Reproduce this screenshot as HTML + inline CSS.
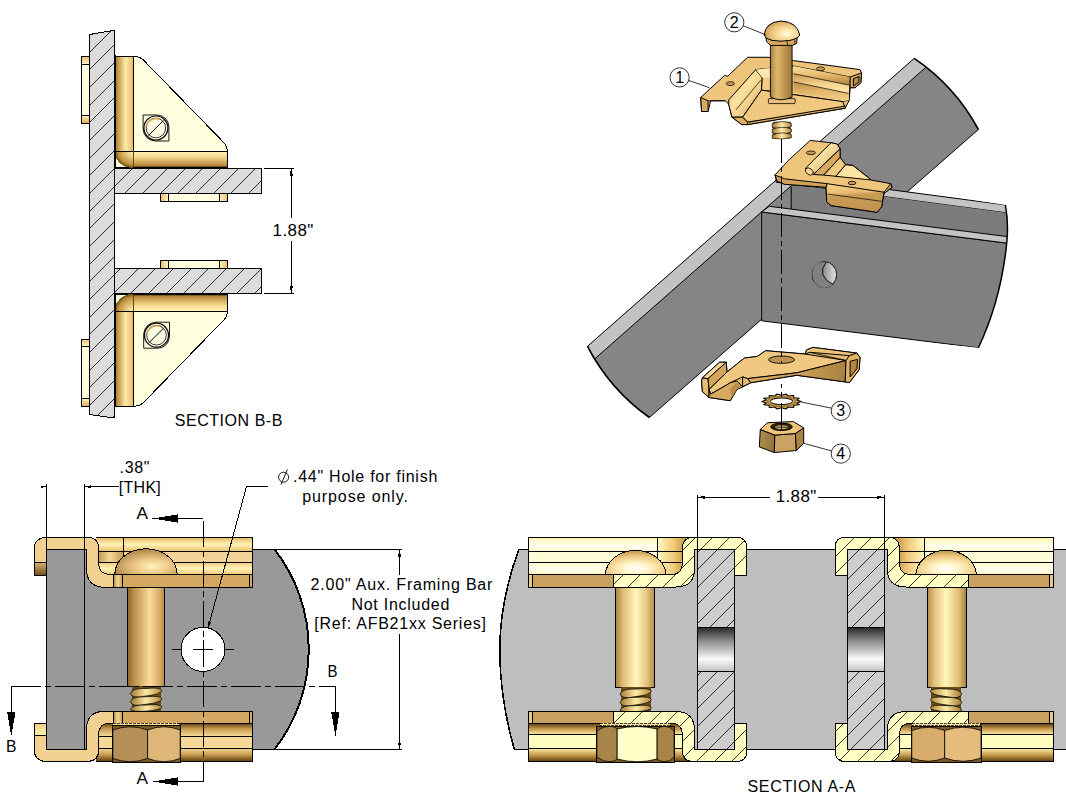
<!DOCTYPE html>
<html><head><meta charset="utf-8"><title>Drawing</title>
<style>
html,body{margin:0;padding:0;background:#fff;}
svg{display:block;}
text{font-family:"Liberation Sans",sans-serif;font-size:16px;fill:#000;}
.ln{stroke:#000;stroke-width:1;fill:none;}
.k{stroke:#000;stroke-width:1;}
</style></head><body>
<svg width="1066" height="800" viewBox="0 0 1066 800" shape-rendering="crispEdges">
<defs>
<pattern id="hatW" patternUnits="userSpaceOnUse" width="17.8" height="17.8" patternTransform="translate(-0.5 0)">
<path d="M-1 18.8L18.8 -1M-1 1L1 -1M16.8 18.8L18.8 16.8" stroke="#000" stroke-width="1" fill="none"/></pattern>
<pattern id="hatP1" patternUnits="userSpaceOnUse" width="17.8" height="17.8" patternTransform="translate(12.4 0)">
<path d="M-1 18.8L18.8 -1M-1 1L1 -1M16.8 18.8L18.8 16.8" stroke="#000" stroke-width="1" fill="none"/></pattern>
<pattern id="hatP2" patternUnits="userSpaceOnUse" width="17.8" height="17.8" patternTransform="translate(15.3 0)">
<path d="M-1 18.8L18.8 -1M-1 1L1 -1M16.8 18.8L18.8 16.8" stroke="#000" stroke-width="1" fill="none"/></pattern>
<linearGradient id="gVbar" x1="0" x2="1" y1="0" y2="0">
<stop offset="0" stop-color="#5a3c08"/><stop offset="0.12" stop-color="#b88a3c"/><stop offset="0.6" stop-color="#ffeaa8"/><stop offset="1" stop-color="#e6bd6c"/></linearGradient>
<linearGradient id="gHbarD" x1="0" x2="0" y1="0" y2="1">
<stop offset="0" stop-color="#fff3b8"/><stop offset="0.35" stop-color="#f6d88c"/><stop offset="0.85" stop-color="#b88a3c"/><stop offset="1" stop-color="#3a2604"/></linearGradient>
<linearGradient id="gHbarU" x1="0" x2="0" y1="1" y2="0">
<stop offset="0" stop-color="#fff3b8"/><stop offset="0.35" stop-color="#f6d88c"/><stop offset="0.85" stop-color="#b88a3c"/><stop offset="1" stop-color="#3a2604"/></linearGradient>
<linearGradient id="gTabT" x1="0" x2="0" y1="0" y2="1"><stop offset="0" stop-color="#e8c070"/><stop offset="1" stop-color="#fff4c0"/></linearGradient>
<linearGradient id="gTabB" x1="0" x2="0" y1="0" y2="1"><stop offset="0" stop-color="#fff4c0"/><stop offset="1" stop-color="#d8a850"/></linearGradient>
<linearGradient id="gTabL" x1="0" x2="1" y1="0" y2="0"><stop offset="0" stop-color="#e8c070"/><stop offset="1" stop-color="#fff4c0"/></linearGradient>
<linearGradient id="gTabR" x1="0" x2="1" y1="0" y2="0"><stop offset="0" stop-color="#fff4c0"/><stop offset="1" stop-color="#e8c070"/></linearGradient>
<radialGradient id="gCornA" cx="1" cy="0" r="1"><stop offset="0.1" stop-color="#ffe9a6"/><stop offset="0.8" stop-color="#c09040"/><stop offset="1" stop-color="#6a4a10"/></radialGradient>
<radialGradient id="gCornB" cx="1" cy="1" r="1"><stop offset="0.1" stop-color="#ffe9a6"/><stop offset="0.8" stop-color="#c09040"/><stop offset="1" stop-color="#6a4a10"/></radialGradient>
</defs>
<rect width="1066" height="800" fill="#fff"/>

<!-- ================= SECTION B-B (top-left) ================= -->
<g id="secBB">
<!-- wall -->
<path d="M89 34.6L114.5 30.3L114.5 418L89 414.4Z" fill="#dcdcdc"/>
<clipPath id="cpBB"><path d="M89 34.6L114.5 30.3L114.5 418L89 414.4Z"/><rect x="114.5" y="168.4" width="147" height="24.9"/><rect x="114.5" y="268.7" width="147" height="24.7"/></clipPath>
<path d="M89 34.6L114.5 30.3L114.5 418L89 414.4Z" fill="none" class="k"/>
<!-- left tabs -->
<rect x="81.3" y="56.6" width="7.7" height="66.6" fill="#ffffe0" class="k"/>
<rect x="81.3" y="56.6" width="7.7" height="7.6" fill="url(#gTabT)" class="k"/>
<rect x="81.3" y="115.7" width="7.7" height="7.5" fill="url(#gTabB)" class="k"/>
<rect x="81.3" y="339.2" width="7.7" height="67.5" fill="#ffffe0" class="k"/>
<rect x="81.3" y="339.2" width="7.7" height="7.7" fill="url(#gTabT)" class="k"/>
<rect x="81.3" y="398.6" width="7.7" height="8.1" fill="url(#gTabB)" class="k"/>
<!-- plates -->
<rect x="114.5" y="168.4" width="147" height="24.9" fill="#dcdcdc"/>
<rect x="114.5" y="268.7" width="147" height="24.7" fill="#dcdcdc"/>
<g clip-path="url(#cpBB)"><path d="M85.0 39.1L265.0 -140.9M85.0 56.7L265.0 -123.3M85.0 74.4L265.0 -105.6M85.0 92.1L265.0 -87.9M85.0 109.7L265.0 -70.3M85.0 127.4L265.0 -52.6M85.0 145.0L265.0 -35.0M85.0 162.7L265.0 -17.3M85.0 180.4L265.0 0.4M85.0 198.0L265.0 18.0M85.0 215.7L265.0 35.7M85.0 233.3L265.0 53.3M85.0 251.0L265.0 71.0M85.0 268.7L265.0 88.7M85.0 286.3L265.0 106.3M85.0 304.0L265.0 124.0M85.0 321.6L265.0 141.6M85.0 339.3L265.0 159.3M85.0 357.0L265.0 177.0M85.0 374.6L265.0 194.6M85.0 392.3L265.0 212.3M85.0 409.9L265.0 229.9M85.0 427.6L265.0 247.6M85.0 445.3L265.0 265.3M85.0 462.9L265.0 282.9M85.0 480.6L265.0 300.6M85.0 498.2L265.0 318.2M85.0 515.9L265.0 335.9M85.0 533.6L265.0 353.6M85.0 551.2L265.0 371.2M85.0 568.9L265.0 388.9M85.0 586.5L265.0 406.5" stroke="#000" stroke-width="0.8" fill="none"/></g>
<rect x="114.5" y="168.4" width="147" height="24.9" fill="none" class="k"/>
<rect x="114.5" y="268.7" width="147" height="24.7" fill="none" class="k"/>
<!-- small nuts -->
<rect x="160.6" y="193.3" width="67" height="7.9" fill="#ffffe0" class="k"/>
<rect x="160.6" y="193.3" width="7.6" height="7.9" fill="url(#gTabL)" class="k"/>
<rect x="219.4" y="193.3" width="8.2" height="7.9" fill="url(#gTabR)" class="k"/>
<rect x="160.6" y="260.6" width="67" height="8.1" fill="#ffffe0" class="k"/>
<rect x="160.6" y="260.6" width="7.6" height="8.1" fill="url(#gTabL)" class="k"/>
<rect x="219.4" y="260.6" width="8.2" height="8.1" fill="url(#gTabR)" class="k"/>
<!-- upper bracket -->
<path d="M114.5 56.6L136 56.6Q140 56.8 143 59.6L224.6 143.4Q227.4 146.6 227.4 151.3L227.4 167.8L114.5 167.8Z" fill="#ffffe0" class="k"/>
<rect x="114.5" y="56.6" width="18.5" height="94.7" fill="url(#gVbar)" class="k"/>
<rect x="133" y="151.3" width="94.4" height="16.5" fill="url(#gHbarD)" class="k"/>
<path d="M114.5 151.3L133 151.3L133 167.8Q116.5 166.5 114.5 151.3Z" fill="url(#gCornA)" stroke="#7a5a20" stroke-width="0.8"/>
<path d="M114.5 151.3L133 151.3" class="ln"/>
<path d="M114.5 55L114.5 168.4" stroke="#000" stroke-width="2"/>
<path d="M133 167.6L227.4 167.6" stroke="#000" stroke-width="2"/>
<!-- lower bracket -->
<path d="M114.5 406L136 406Q140 405.8 143 403L224.6 319.2Q227.4 316 227.4 311.3L227.4 294L114.5 294Z" fill="#ffffe0" class="k"/>
<rect x="114.5" y="311.3" width="18.5" height="94.7" fill="url(#gVbar)" class="k"/>
<rect x="133" y="294" width="94.4" height="17.3" fill="url(#gHbarU)" class="k"/>
<path d="M114.5 311.3L133 311.3L133 294Q116.5 295.3 114.5 311.3Z" fill="url(#gCornB)" stroke="#7a5a20" stroke-width="0.8"/>
<path d="M114.5 311.3L133 311.3" class="ln"/>
<path d="M114.5 293.4L114.5 407" stroke="#000" stroke-width="2"/>
<path d="M133 294.4L227.4 294.4" stroke="#000" stroke-width="2"/>
<!-- screws -->
<g shape-rendering="geometricPrecision">
<g transform="translate(155.9 128)">
<path d="M-12.8 -13L2 -13Q12.2 -11.6 13 -1L13 13L-1 13Q-11.8 11.6 -12.8 1Z" fill="#ffffe0" stroke="#000" stroke-width="0.9"/>
<circle r="12" fill="#ffffe8" stroke="#000" stroke-width="1.2"/>
<circle r="9.8" fill="none" stroke="#000" stroke-width="0.8"/>
<path d="M-9.6 -3A10 10 0 0 1 3 -9.6" stroke="#e0b050" stroke-width="1.4" fill="none" transform="translate(0.3 0.8)"/>
<path d="M-7.4 7.4L7.4 -7.4" stroke="#000" stroke-width="1"/>
</g>
<g transform="translate(156.5 335.2)">
<path d="M-12.8 13L2 13Q12.2 11.6 13 1L13 -13L-1 -13Q-11.8 -11.6 -12.8 -1Z" fill="#ffffe0" stroke="#000" stroke-width="0.9"/>
<circle r="12" fill="#ffffe8" stroke="#000" stroke-width="1.2"/>
<circle r="9.8" fill="none" stroke="#000" stroke-width="0.8"/>
<path d="M-9.6 -3A10 10 0 0 1 3 -9.6" stroke="#e0b050" stroke-width="1.4" fill="none" transform="translate(0.3 0.8)"/>
<path d="M-7.4 7.4L7.4 -7.4" stroke="#000" stroke-width="1"/>
</g></g>
<!-- dimension -->
<path d="M263.6 168.4L294 168.4M263.6 293.4L294 293.4M291.2 168.4L291.2 218M291.2 241L291.2 293.4" class="ln"/>
<path d="M291.2 168.4L289.6 175.5L292.8 175.5ZM291.2 293.4L289.6 286.3L292.8 286.3Z" fill="#000"/>
<text x="272.6" y="236" textLength="40.7" lengthAdjust="spacing" style="font-size:17px">1.88"</text>
<text x="174.8" y="425.9" textLength="107.6" lengthAdjust="spacing">SECTION B-B</text>
</g>

<!-- ================= PLAN VIEW (bottom-left) ================= -->
<defs>
<linearGradient id="gShaft" x1="0" x2="1" y1="0" y2="0">
<stop offset="0" stop-color="#8a6828"/><stop offset="0.16" stop-color="#b88c48"/><stop offset="0.6" stop-color="#fbdc9c"/><stop offset="0.85" stop-color="#dcb06c"/><stop offset="1" stop-color="#b08c48"/></linearGradient>
<linearGradient id="gShaftY" x1="0" x2="1" y1="0" y2="0">
<stop offset="0" stop-color="#a88444"/><stop offset="0.18" stop-color="#e0bc74"/><stop offset="0.52" stop-color="#fff6bc"/><stop offset="0.82" stop-color="#e4c07c"/><stop offset="1" stop-color="#b08c48"/></linearGradient>
<linearGradient id="gBand1" x1="0" x2="0" y1="0" y2="1">
<stop offset="0" stop-color="#e4b864"/><stop offset="0.5" stop-color="#fff2b4"/><stop offset="1" stop-color="#e8c070"/></linearGradient>
<linearGradient id="gBand3" x1="0" x2="0" y1="0" y2="1">
<stop offset="0" stop-color="#f0cc80"/><stop offset="0.5" stop-color="#fff2b4"/><stop offset="1" stop-color="#f0c878"/></linearGradient>
<linearGradient id="gBandD1" x1="0" x2="0" y1="0" y2="1">
<stop offset="0" stop-color="#5a3c0c"/><stop offset="0.45" stop-color="#c89c50"/><stop offset="1" stop-color="#f4d898"/></linearGradient>
<linearGradient id="gBandD3" x1="0" x2="0" y1="0" y2="1">
<stop offset="0" stop-color="#f4d898"/><stop offset="0.5" stop-color="#c89c50"/><stop offset="1" stop-color="#5a3c0c"/></linearGradient>
<linearGradient id="gHookB" x1="0" x2="0" y1="0" y2="1">
<stop offset="0" stop-color="#d8b070"/><stop offset="1" stop-color="#6a4a18"/></linearGradient>
<linearGradient id="gHookT" x1="0" x2="0" y1="1" y2="0">
<stop offset="0" stop-color="#fff0b0"/><stop offset="1" stop-color="#f0cc80"/></linearGradient>
<linearGradient id="gSide" x1="0" x2="1" y1="0" y2="0">
<stop offset="0" stop-color="#b88c40"/><stop offset="0.5" stop-color="#f4d898"/><stop offset="1" stop-color="#c89c50"/></linearGradient>
<radialGradient id="gDome" cx="0.6" cy="0.68" r="0.72">
<stop offset="0" stop-color="#fff2bc"/><stop offset="0.4" stop-color="#ecc888"/><stop offset="1" stop-color="#a47c38"/></radialGradient>
<linearGradient id="gThread" x1="0" x2="1" y1="0" y2="0">
<stop offset="0" stop-color="#a07830"/><stop offset="0.5" stop-color="#ffeaa8"/><stop offset="1" stop-color="#b08838"/></linearGradient>
</defs>
<g id="plan">
<!-- aux bar -->
<path d="M84.4 549.6L274.7 549.6A163 163 0 0 1 274.4 749.4L84.4 749.4Z" fill="#999" class="k"/>
<path d="M274.7 549.6A163 163 0 0 1 274.4 749.4" stroke="#000" stroke-width="2" fill="none"/>
<!-- main bar -->
<rect x="46.4" y="549.4" width="38" height="200" fill="#999" class="k"/>
<!-- bolt shaft -->
<rect x="127.6" y="587" width="36.8" height="99" fill="url(#gShaft)" class="k"/>
<!-- thread -->
<g id="thr1">
<rect x="131.5" y="686" width="29.4" height="25.4" fill="#6a4c18"/>
<g fill="url(#gThread)" stroke="#000" stroke-width="0.7" shape-rendering="geometricPrecision">
<path d="M130.4 693.5Q132 688 146 688.5Q160 687 162 690.5Q160.5 694.5 146 696Q132 699 130.4 693.5Z"/>
<path d="M130.4 701.8Q132 696.3 146 696.8Q160 695.3 162 698.8Q160.5 702.8 146 704.3Q132 707.3 130.4 701.8Z"/>
<path d="M130.4 709.5Q132 704.6 146 705.1Q160 703.6 162 707.1Q161 710 146 711.2Q132 712 130.4 709.5Z"/>
</g></g>
<!-- TOP BRACKET -->
<rect x="96" y="537.4" width="156.6" height="14" fill="url(#gBand1)"/>
<rect x="96" y="551.4" width="156.6" height="11" fill="#f2d296"/>
<rect x="96" y="551.4" width="27.4" height="11" fill="url(#gSide)"/>
<rect x="96" y="562.4" width="156.6" height="12" fill="url(#gBand3)"/>
<path d="M96 537.4L252.6 537.4L252.6 574.4L96 574.4M96 551.4L252.6 551.4M96 562.4L252.6 562.4M123.4 537.4L123.4 574.4" class="ln"/>
<rect x="113.5" y="574.4" width="139.1" height="13" fill="#d4a862" class="k"/>
<rect x="113.5" y="574.4" width="9" height="13" fill="url(#gSide)" class="k"/>
<path d="M249.4 574.4L249.4 587.4" class="ln"/>
<!-- dome -->
<path d="M114.8 574.4A31.2 25.6 0 0 1 177.2 574.4Z" fill="url(#gDome)" class="k"/>
<!-- strip -->
<path d="M34.2 575.8L34.2 548.4A11 11 0 0 1 45.2 537.4L88 537.4Q98.6 537.6 98.6 549L98.6 563Q98.8 574.4 110.5 574.4L113.5 574.4L113.5 587.4L104 587.4Q86.3 586.6 86.3 568L86.3 549.3L46.4 549.3L46.4 575.8Z" fill="#f2d090" class="k"/>
<rect x="34.2" y="562.8" width="12.2" height="13" fill="url(#gHookB)" class="k"/>
<!-- BOTTOM BRACKET -->
<rect x="96" y="723" width="156.6" height="13" fill="url(#gBandD1)"/>
<rect x="96" y="736" width="156.6" height="12" fill="#f6d898"/>
<rect x="96" y="748" width="156.6" height="13.4" fill="url(#gBandD3)"/>
<path d="M96 723L252.6 723L252.6 761.4L96 761.4M96 736L252.6 736M96 748L252.6 748" class="ln"/>
<rect x="113.5" y="711.2" width="139.1" height="11.8" fill="#d4a862" class="k"/>
<rect x="113.5" y="711.2" width="9" height="11.8" fill="url(#gSide)" class="k"/>
<path d="M249.4 711.2L249.4 723" class="ln"/>
<path d="M34.2 723L34.2 750.4A11 11 0 0 0 45.2 761.4L88 761.4Q98.6 761.2 98.6 750L98.6 735Q98.8 723 110.5 723L113.5 723L113.5 711.2L104 711.2Q86.3 712 86.3 730L86.3 749.3L46.4 749.3L46.4 723Z" fill="#f2d090" class="k"/>
<rect x="34.2" y="723" width="12.2" height="12" fill="url(#gHookT)" class="k"/>
<!-- nut -->
<rect x="112.6" y="723" width="66" height="2.6" fill="#f4dc9c" stroke="#000" stroke-width="0.7" stroke-dasharray="3 1"/>
<rect x="112.6" y="725.6" width="67.8" height="37" fill="#7a5a24" class="k"/>
<g shape-rendering="geometricPrecision" stroke="#000" stroke-width="0.8">
<path d="M112.9 730Q130 723.5 147.6 730L147.6 758.4Q130 765 112.9 758.4Z" fill="#b49058"/>
<path d="M147.6 730Q164 723.5 180.2 730L180.2 758.4Q164 765 147.6 758.4Z" fill="#deb678"/>
</g>
<!-- hole -->
<circle cx="203" cy="649.4" r="22" fill="#fff" class="k"/>
<path d="M193.2 649.4L212.8 649.4M203 639.6L203 659.2M172 649.4L181 649.4M225 649.4L234 649.4" class="ln"/>
<!-- centre lines -->
<path d="M203 518.5L203 781.5" class="ln" stroke-dasharray="26 4 6 4" stroke-dashoffset="-2"/>
<path d="M11.3 686.4L335.4 686.4" class="ln" stroke-dasharray="30 4 6 4"/>
<!-- A arrows -->
<path d="M203 518.5L177 518.5M203 781.5L177 781.5" class="ln"/>
<path d="M152.5 518.5L178 514.4L178 522.6ZM153.5 781.5L178 777.4L178 785.6Z" fill="#000"/>
<text x="136.5" y="519.4" textLength="11.5" lengthAdjust="spacingAndGlyphs">A</text>
<text x="136.5" y="783.6" textLength="11.5" lengthAdjust="spacingAndGlyphs">A</text>
<!-- B arrows -->
<path d="M11.3 686.4L11.3 712M335.4 686.4L335.4 712" class="ln"/>
<path d="M11.3 736.5L7.1 711.6L15.5 711.6ZM335.4 736.5L331.2 711.6L339.6 711.6Z" fill="#000"/>
<text x="6" y="752.2" textLength="10.5" lengthAdjust="spacingAndGlyphs">B</text>
<text x="327.6" y="677.1" textLength="10" lengthAdjust="spacingAndGlyphs">B</text>
<!-- .38 THK dimension -->
<path d="M46.4 484L46.4 549M84.4 484L84.4 549M41.5 486.7L46.4 486.7M84.4 486.7L118.5 486.7" class="ln"/>
<path d="M46.4 486.7L41 485.5L41 487.9ZM84.4 486.7L90.5 485.3L90.5 488.1Z" fill="#000"/>
<text x="119.5" y="472.5" textLength="30" lengthAdjust="spacing">.38"</text>
<text x="118.8" y="493.4" textLength="42" lengthAdjust="spacing">[THK]</text>
<!-- hole leader -->
<path d="M208 628L246.6 486.2L267.7 486.2" class="ln"/>
<path d="M208 628L208 621.5L210.6 622.2Z" fill="#000" stroke="#000" stroke-width="0.6"/>
<g transform="translate(283.6 477.2)" shape-rendering="geometricPrecision"><ellipse rx="5" ry="5" fill="none" stroke="#000" stroke-width="0.9"/><path d="M-2.6 7.4L3.8 -7.6" stroke="#000" stroke-width="0.9"/></g>
<text x="293" y="482.4" textLength="144.3" lengthAdjust="spacing">.44" Hole for finish</text>
<text x="302.2" y="502.1" textLength="105.8" lengthAdjust="spacing">purpose only.</text>
<!-- 2.00 dimension -->
<path d="M276 549.6L401.5 549.6M276.3 749.5L401.5 749.5M399.6 549.6L399.6 575M399.6 634.4L399.6 749.5" class="ln"/>
<path d="M399.6 549.6L398 556.6L401.2 556.6ZM399.6 749.5L398 742.5L401.2 742.5Z" fill="#000"/>
<text x="310.6" y="589.9" textLength="181.8" lengthAdjust="spacing">2.00" Aux. Framing Bar</text>
<text x="351.4" y="609.6" textLength="98" lengthAdjust="spacing">Not Included</text>
<text x="314.3" y="629.3" textLength="171.7" lengthAdjust="spacing">[Ref: AFB21xx Series]</text>
</g>

<!-- ================= ISOMETRIC (top-right) ================= -->
<defs>
<linearGradient id="iShaft" x1="0" x2="1" y1="0" y2="0"><stop offset="0" stop-color="#a88040"/><stop offset="0.3" stop-color="#e0b870"/><stop offset="0.55" stop-color="#c8a058"/><stop offset="1" stop-color="#9a7434"/></linearGradient>
<radialGradient id="iHead" cx="0.64" cy="0.62" r="0.62"><stop offset="0" stop-color="#ffffe0"/><stop offset="0.3" stop-color="#fbe6ac"/><stop offset="0.7" stop-color="#ecc47c"/><stop offset="1" stop-color="#d0a458"/></radialGradient>
<linearGradient id="iSlopeL" x1="0" x2="1" y1="0" y2="1"><stop offset="0" stop-color="#e4b86c"/><stop offset="0.45" stop-color="#fbe2a0"/><stop offset="1" stop-color="#d8a85c"/></linearGradient>
<linearGradient id="iSlopeR" x1="0" x2="0.15" y1="0" y2="1"><stop offset="0" stop-color="#f8dc98"/><stop offset="0.3" stop-color="#c89850"/><stop offset="0.55" stop-color="#f8dc98"/><stop offset="0.8" stop-color="#c89850"/><stop offset="1" stop-color="#efc880"/></linearGradient>
<linearGradient id="iLip" x1="0" x2="0.12" y1="0" y2="1"><stop offset="0" stop-color="#f6d48c"/><stop offset="0.35" stop-color="#e8bc70"/><stop offset="0.45" stop-color="#c89c54"/><stop offset="1" stop-color="#c09450"/></linearGradient>
<linearGradient id="iRidge" x1="0" x2="1" y1="0" y2="1"><stop offset="0" stop-color="#e0b468"/><stop offset="0.4" stop-color="#fbe4a4"/><stop offset="1" stop-color="#c89c54"/></linearGradient>
<linearGradient id="iBandA" x1="0" x2="0.15" y1="0" y2="1"><stop offset="0" stop-color="#fbe4a4"/><stop offset="0.5" stop-color="#e8bc70"/><stop offset="1" stop-color="#b88c44"/></linearGradient>
<linearGradient id="iBandB" x1="0" x2="0.15" y1="0" y2="1"><stop offset="0" stop-color="#c89850"/><stop offset="0.6" stop-color="#f4d48c"/><stop offset="1" stop-color="#fbe4a4"/></linearGradient>
<linearGradient id="iBandC" x1="0" x2="0.15" y1="0" y2="1"><stop offset="0" stop-color="#b88c44"/><stop offset="0.5" stop-color="#e0b468"/><stop offset="1" stop-color="#f2cc84"/></linearGradient>
<linearGradient id="iUnder" x1="0" x2="1" y1="0" y2="0"><stop offset="0" stop-color="#dcae64"/><stop offset="0.6" stop-color="#c89c54"/><stop offset="1" stop-color="#a88040"/></linearGradient>
<linearGradient id="iHole" x1="0" x2="1" y1="0" y2="0"><stop offset="0" stop-color="#7a7a7a"/><stop offset="0.45" stop-color="#8c8c8c"/><stop offset="1" stop-color="#e8e8e8"/></linearGradient>
<linearGradient id="iNutL" x1="0" x2="1" y1="0" y2="0"><stop offset="0" stop-color="#b08c4c"/><stop offset="1" stop-color="#94723c"/></linearGradient>
</defs>
<g id="iso" shape-rendering="geometricPrecision">
<path id="dbar" d="M587.5 346.3L914.2 58.4A201 201 0 0 1 978.4 129.5L649.4 417.5A201 201 0 0 1 587.5 346.3Z" fill="#858585"/>
<clipPath id="cpDB"><use href="#dbar"/></clipPath>
<path d="M580 346L914.2 52L925.8 67.4L595 358.6Z" fill="#c2c2c2" clip-path="url(#cpDB)"/>
<path d="M595 358.6L925.8 67.4" fill="none" stroke="#000" stroke-width="1" />
<path d="M587.5 346.3L914.2 58.4M978.4 129.5L649.4 417.5" fill="none" stroke="#000" stroke-width="1"/>
<path d="M914.2 58.4A201 201 0 0 1 978.4 129.5M649.4 417.5A201 201 0 0 1 587.5 346.3" fill="none" stroke="#000" stroke-width="1.7"/>
<clipPath id="cpHB"><path d="M755 165L1005.4 204.9Q1008.8 224 1006.7 243.1Q1001 300 978.4 347.7L755 325Z"/></clipPath>
<g clip-path="url(#cpHB)">
<path d="M776 174.5L1012 205.8L1012 213.6L776 182.2Z" fill="#c4c4c4" stroke="#000" stroke-width="1" stroke-linejoin="round" />
<path d="M791.2 184.2L1012 213.6L1012 237.2L791.2 209.6Z" fill="#7c7c7c" stroke="none" stroke-width="1" stroke-linejoin="round" />
<path d="M791.2 186.5L791.2 209.4" fill="none" stroke="#000" stroke-width="1" />
<path d="M761.7 212L1012 243.8L1012 352L761.7 320.8Z" fill="#808080" stroke="#000" stroke-width="1"/>
<path d="M761.7 212L769.2 206.3L1012 237.2L1012 243.8Z" fill="#c4c4c4" stroke="#000" stroke-width="1" stroke-linejoin="round" />
</g>
<path d="M1005.4 204.9Q1008.8 224 1006.7 243.1Q1001 300 978.4 347.7" fill="none" stroke="#000" stroke-width="1.5"/>
<ellipse cx="824.4" cy="274.6" rx="12.2" ry="13" fill="url(#iHole)" stroke="#000" stroke-width="0.9"/>
<path d="M826 262.5Q816 276 833 284.5Q823 292 815 283Q809 272 816 264.5Q821 261 826 262.5Z" fill="#808080"/>
<path d="M826 262.2Q816 276 833.5 284.8" fill="none" stroke="#000" stroke-width="0.9"/>
<path d="M810.2 140.4L831.0 142.8L837.1 144.0L840.1 148.9L840.1 157.4L845.6 164.8L852.9 165.4L871.2 180.0L890.7 183.7L892.0 187.3L884.0 193.4L881.6 206.8L877.3 212.3L831.0 205.6L826.7 202.0L826.1 187.3L784.6 184.3L777.3 181.2L774.9 175.1L788.3 160.5Z" fill="#efc57c" stroke="#000" stroke-width="1" stroke-linejoin="round" />
<path d="M774.9 175.1L784.6 178.8L827.3 183.7L826.1 187.3L784.6 184.3L777.3 181.2Z" fill="#d2a258" stroke="#000" stroke-width="1" stroke-linejoin="round" />
<path d="M827.3 183.7L884.0 192.2L881.6 206.8L877.3 212.3L831.0 205.6L826.7 202.0L826.1 187.3Z" fill="url(#iLip)" stroke="#000" stroke-width="1" stroke-linejoin="round" />
<path d="M827.3 194.0L881.6 201.3" fill="none" stroke="#000" stroke-width="0.7" />
<path d="M884.0 192.2L890.7 183.7L892.0 187.3L884.0 193.4Z" fill="#d2a258" stroke="#000" stroke-width="1" stroke-linejoin="round" />
<path d="M805.4 168.4L831.0 142.8L837.1 144.0L840.1 148.9L813.3 174.5Z" fill="url(#iRidge)" stroke="#000" stroke-width="1" stroke-linejoin="round" />
<path d="M813.3 174.5L840.1 148.9L840.1 157.4L823.7 175.1Z" fill="#d8a85c" stroke="#000" stroke-width="1" stroke-linejoin="round" />
<path d="M823.7 175.1L840.1 157.4L845.6 164.8L835.9 176.3Z" fill="#f0c880" stroke="#000" stroke-width="1" stroke-linejoin="round" />
<path d="M835.9 176.3L845.6 164.8L852.9 165.4L871.2 180.0Z" fill="#fbe4a4" stroke="#000" stroke-width="1" stroke-linejoin="round" />
<ellipse cx="809.3" cy="171.5" rx="4.3" ry="3" transform="rotate(38 809.3 171.5)" fill="#f6d894" stroke="#000" stroke-width="0.8"/>
<ellipse cx="810.9" cy="152.8" rx="4.6" ry="1.8" fill="#c89c54" stroke="#000" stroke-width="0.8"/>
<ellipse cx="852" cy="183" rx="4" ry="1.7" fill="#c89c54" stroke="#000" stroke-width="0.8"/>
<path d="M700.7 97.5L724.6 75.4L727.8 76.2L747.5 57.3L768.9 57.3L793.5 60.6L860.0 69.6L861.6 72.9L860.8 82.8L855.1 87.7L850.1 87.7L849.3 100.0L845.2 108.2L747.5 124.6L741.8 124.6L731.9 117.2L728.7 104.1L725.4 100.8L710.6 100.8L708.1 111.5L701.6 111.5Z" fill="#efc57c" stroke="#000" stroke-width="1" stroke-linejoin="round" />
<path d="M728.7 100.0L755.7 69.6L762.3 77.8L761.5 90.1L742.6 117.2L731.9 117.2L728.7 104.1Z" fill="url(#iSlopeL)" stroke="#000" stroke-width="1" stroke-linejoin="round" />
<path d="M755.7 69.6L793.5 66.0L850.1 77.0L849.3 100.0L842.8 101.6L761.5 90.1L762.3 77.8Z" fill="#f2cc84" stroke="#000" stroke-width="1" stroke-linejoin="round" />
<path d="M793.5 66.0L850.1 77.0L849.3 85.2L793.5 73.7Z" fill="url(#iBandA)" stroke="none" stroke-width="1" stroke-linejoin="round" />
<path d="M793.5 73.7L849.3 85.2L848.5 93.4L793.5 81.9Z" fill="url(#iBandB)" stroke="none" stroke-width="1" stroke-linejoin="round" />
<path d="M793.5 81.9L848.5 93.4L849.3 100.0L842.8 101.6L793.5 92.6Z" fill="url(#iBandC)" stroke="none" stroke-width="1" stroke-linejoin="round" />
<path d="M755.7 69.6L772.2 67.7L772.2 77.8L762.3 77.8Z" fill="#fbe8b0" stroke="none" stroke-width="1" stroke-linejoin="round" />
<path d="M736.0 109.8L760.7 80.3" fill="none" stroke="#000" stroke-width="0.7" />
<path d="M793.5 73.7L849.3 85.2" fill="none" stroke="#000" stroke-width="0.7" />
<path d="M793.5 81.9L848.5 93.4" fill="none" stroke="#000" stroke-width="0.7" />
<path d="M761.5 90.1L842.8 101.6L845.2 108.2L747.5 122.2L742.6 117.2Z" fill="#f0c880" stroke="#000" stroke-width="1" stroke-linejoin="round" />
<path d="M742.6 117.2L747.5 122.2L845.2 106.1L845.2 108.2L747.5 124.6L741.8 124.6L731.9 117.2Z" fill="#dcae62" stroke="#000" stroke-width="1" stroke-linejoin="round" />
<path d="M747.5 122.2L747.5 124.6" fill="none" stroke="#000" stroke-width="0.8" />
<path d="M700.7 97.5L708.1 100.8L708.1 111.5L701.6 111.5Z" fill="#d8a85c" stroke="#000" stroke-width="1" stroke-linejoin="round" />
<path d="M708.1 100.8L725.4 100.8" fill="none" stroke="#000" stroke-width="0.8" />
<path d="M850.1 77.0L861.6 72.9L860.8 82.8L855.1 87.7L850.1 87.7Z" fill="#d8a85c" stroke="#000" stroke-width="1" stroke-linejoin="round" />
<path d="M853.4 78.7L859.2 76.5L858.8 82.4L853.4 86.0Z" fill="#b88c48" stroke="#000" stroke-width="1" stroke-linejoin="round" />
<ellipse cx="730.3" cy="83.6" rx="4" ry="1.9" fill="#c89c54" stroke="#000" stroke-width="0.8"/>
<ellipse cx="820.6" cy="68.8" rx="4" ry="1.9" fill="#c89c54" stroke="#000" stroke-width="0.8"/>
<rect x="768.4" y="98.6" width="26.8" height="5" rx="1" fill="#e8c078" stroke="#000" stroke-width="0.8"/>
<path d="M770.4 44L770.4 97Q781 102.5 792.1 97L792.1 44Z" fill="url(#iShaft)" stroke="#000" stroke-width="0.9"/>
<path d="M766 37L766.4 41.6L770.7 45.4L792.7 45.4L796.6 43.4L797.2 37Z" fill="#d8aa60" stroke="#000" stroke-width="1"/>
<path d="M787 41L787.6 45M794.6 39.5L795 44" stroke="#000" stroke-width="0.7" fill="none"/>
<path d="M764.1 35Q765.6 22 781 21Q797.4 22 799.7 35Q799 38.2 790 40.4Q781 42 772 40.4Q765 38.2 764.1 35Z" fill="url(#iHead)" stroke="#000" stroke-width="1"/>
<g transform="translate(781.8 130) scale(0.6 0.66) translate(-146 -698.5)"><rect x="131" y="686" width="30" height="25.4" fill="#7a5a20"/><g fill="url(#gThread)" stroke="#000" stroke-width="1"><path d="M130 689Q146 683 162 688.5L162 693Q146 699 130 694.5Z"/><path d="M130 697.5Q146 691.5 162 697L162 701.5Q146 707.5 130 703Z"/><path d="M130 706Q146 700 162 705.5L162 710Q146 714 130 711Z"/></g></g>
<path d="M701.6 381.0L702.4 377.8L719.6 362.2L726.2 362.2L727.0 372.0L744.3 358.1L757.4 356.4L765.6 350.7L805.0 354.0L806.6 349.9L813.2 347.4L856.7 353.1L860.0 357.2L859.2 369.6L849.3 382.7L845.2 381.9L796.8 375.3L750.8 382.7L742.6 386.8L736.9 389.3L730.3 400.7L709.0 397.5L702.4 391.7Z" fill="#e6ba6e" stroke="#000" stroke-width="1" stroke-linejoin="round" />
<path d="M744.3 358.1L757.4 356.4L765.6 350.7L805.0 354.0L846.0 360.5L796.8 372.8L747.5 378.6L742.6 376.9L730.3 382.7L727.8 384.3L710.6 394.2L709.0 389.3L727.0 372.0Z" fill="#f0c880" stroke="#000" stroke-width="1" stroke-linejoin="round" />
<path d="M747.5 378.6L796.8 372.8L846.0 360.5L845.2 381.9L796.8 375.3L750.8 382.7Z" fill="url(#iUnder)" stroke="#000" stroke-width="1" stroke-linejoin="round" />
<path d="M742.6 376.9L747.5 378.6L750.8 382.7L742.6 386.8Z" fill="#e8bc70" stroke="#000" stroke-width="1" stroke-linejoin="round" />
<path d="M701.6 381.0L702.4 377.8L708.1 378.6L709.0 389.3L709.0 397.5L702.4 391.7Z" fill="#e8bc70" stroke="#000" stroke-width="1" stroke-linejoin="round" />
<path d="M702.4 377.8L719.6 362.2L726.2 362.2L708.1 378.6Z" fill="#f6d694" stroke="#000" stroke-width="1" stroke-linejoin="round" />
<path d="M708.1 378.6L726.2 362.2L727.0 372.0L709.0 389.3Z" fill="#d4a65c" stroke="#000" stroke-width="1" stroke-linejoin="round" />
<path d="M709.0 389.3L710.6 394.2L727.8 384.3L730.3 382.7L736.9 381.0L742.6 386.8L736.9 389.3L730.3 400.7L709.0 397.5Z" fill="#d8aa60" stroke="#000" stroke-width="1" stroke-linejoin="round" />
<path d="M730.3 389.3L736.0 383.0L741.8 386.8L736.9 389.3L731.9 397.5Z" fill="#b88c48" stroke="none" stroke-width="1" stroke-linejoin="round" />
<path d="M805.0 354.0L806.6 349.9L813.2 347.4L856.7 353.1L849.3 355.6L809.9 352.3Z" fill="#eec47a" stroke="#000" stroke-width="1" stroke-linejoin="round" />
<path d="M856.7 353.1L860.0 357.2L859.2 369.6L849.3 382.7L845.2 381.9L846.0 360.5L849.3 355.6Z" fill="#e0b266" stroke="#000" stroke-width="1" stroke-linejoin="round" />
<path d="M850.1 361.3L857.5 359.4L856.9 368.7L850.1 376.9Z" fill="#b48844" stroke="#000" stroke-width="1" stroke-linejoin="round" />
<path d="M809.9 352.3L846.0 360.5" fill="none" stroke="#000" stroke-width="0.8" />
<ellipse cx="781.5" cy="359.7" rx="13" ry="3.7" fill="#c09450" stroke="#000" stroke-width="0.9"/>
<path d="M781.6 139L781.6 362.8M781.6 383.5L781.6 388" stroke="#000" stroke-width="1" stroke-dasharray="24 4 5 4" fill="none" shape-rendering="crispEdges"/>
<path d="M801.1 401.5L796.8 402.9L799.2 404.8L793.8 405.3L793.7 407.5L788.3 407.0L785.9 409.0L781.5 407.7L777.1 409.0L774.7 407.0L769.3 407.5L769.2 405.3L763.8 404.8L766.2 402.9L761.9 401.5L766.2 400.1L763.8 398.2L769.2 397.7L769.3 395.5L774.7 396.0L777.1 394.0L781.5 395.3L785.9 394.0L788.3 396.0L793.7 395.5L793.8 397.7L799.2 398.2L796.8 400.1Z" fill="#e0b060" stroke="#000" stroke-width="1.1" stroke-linejoin="round" />
<ellipse cx="781.5" cy="401.5" rx="14" ry="5" fill="none" stroke="#a07830" stroke-width="1.6"/>
<ellipse cx="781.5" cy="401.3" rx="11.3" ry="3.3" fill="#fff" stroke="#000" stroke-width="1"/>
<path d="M760.3 429.4L774.8 435.1L774.3 452.6L759.3 446.9Z" fill="url(#iNutL)" stroke="#000" stroke-width="1" stroke-linejoin="round" />
<path d="M774.8 435.1L795.4 433.5L796.4 450.5L774.3 452.6Z" fill="#caa264" stroke="#000" stroke-width="1" stroke-linejoin="round" />
<path d="M795.4 433.5L803.7 427.8L803.7 443.3L796.4 450.5Z" fill="#a88444" stroke="#000" stroke-width="1" stroke-linejoin="round" />
<path d="M760.3 429.4L767.5 422.7L793.3 421.6L803.7 427.8L795.4 433.5L774.8 435.1Z" fill="#efc57c" stroke="#000" stroke-width="1" stroke-linejoin="round" />
<ellipse cx="781.5" cy="426.8" rx="10.8" ry="3.7" fill="#3a2a0c" stroke="#000" stroke-width="1"/>
<ellipse cx="781.5" cy="427.2" rx="7.6" ry="2.2" fill="#f2d27c" stroke="#000" stroke-width="0.6"/>
<path d="M781.5 392L781.5 396.5" fill="none" stroke="#000" stroke-width="1" shape-rendering="crispEdges"/>
<path d="M781.5 403L781.5 431" fill="none" stroke="#000" stroke-width="1" shape-rendering="crispEdges"/>
<path d="M773 427.2L790 427.2" fill="none" stroke="#000" stroke-width="0.9" />
<path d="M743.4 25.8L766.3 35.1" fill="none" stroke="#000" stroke-width="0.8" />
<circle cx="734.3" cy="22.3" r="9.6" fill="#fff" stroke="#000" stroke-width="0.8"/>
<text x="734.3" y="27.9" text-anchor="middle" style="font-size:16px">2</text>
<path d="M688.9 80.5L709.5 87.7" fill="none" stroke="#000" stroke-width="0.8" />
<circle cx="679.6" cy="77.4" r="9.6" fill="#fff" stroke="#000" stroke-width="0.8"/>
<text x="679.6" y="83.0" text-anchor="middle" style="font-size:16px">1</text>
<path d="M801.1 402L831.6 408.2" fill="none" stroke="#000" stroke-width="0.8" />
<circle cx="840.8" cy="410.8" r="9.6" fill="#fff" stroke="#000" stroke-width="0.8"/>
<text x="840.8" y="416.40000000000003" text-anchor="middle" style="font-size:16px">3</text>
<path d="M803.7 443.3L831.8 451" fill="none" stroke="#000" stroke-width="0.8" />
<circle cx="840.8" cy="453.6" r="9.6" fill="#fff" stroke="#000" stroke-width="0.8"/>
<text x="840.8" y="459.20000000000005" text-anchor="middle" style="font-size:16px">4</text>
</g>
<!-- ================= SECTION A-A (bottom-right) ================= -->
<defs>
<pattern id="hatA" patternUnits="userSpaceOnUse" width="17.6" height="17.6" patternTransform="translate(3 0)">
<path d="M-1 18.6L18.6 -1M-1 1L1 -1M16.6 18.6L18.6 16.6" stroke="#000" stroke-width="1" fill="none"/></pattern>
<linearGradient id="gCyl" x1="0" x2="0" y1="0" y2="1">
<stop offset="0" stop-color="#2c2c2c"/><stop offset="0.3" stop-color="#8a8a8a"/><stop offset="0.72" stop-color="#fafafa"/><stop offset="1" stop-color="#c4c4c4"/></linearGradient>
<linearGradient id="gCr1" x1="0" x2="0" y1="0" y2="1">
<stop offset="0" stop-color="#fff4b0"/><stop offset="0.6" stop-color="#fffff0"/><stop offset="1" stop-color="#fffad0"/></linearGradient>
<linearGradient id="gCr3" x1="0" x2="0" y1="0" y2="1">
<stop offset="0" stop-color="#fffbd0"/><stop offset="0.5" stop-color="#fffff0"/><stop offset="1" stop-color="#fff6b8"/></linearGradient>
<linearGradient id="gGoldR" x1="0" x2="1" y1="0" y2="0">
<stop offset="0" stop-color="#fff8c0"/><stop offset="0.55" stop-color="#f0c878"/><stop offset="1" stop-color="#b88a3c"/></linearGradient>
<radialGradient id="gDomeY" cx="0.5" cy="0.75" r="0.7">
<stop offset="0" stop-color="#ffffff"/><stop offset="0.3" stop-color="#fff6cc"/><stop offset="0.7" stop-color="#f0cc84"/><stop offset="1" stop-color="#c8a058"/></radialGradient>
<linearGradient id="gYB1" x1="0" x2="0" y1="0" y2="1">
<stop offset="0" stop-color="#5a3c0c"/><stop offset="0.5" stop-color="#c89c50"/><stop offset="1" stop-color="#fff2a8"/></linearGradient>
<linearGradient id="gYB3" x1="0" x2="0" y1="0" y2="1">
<stop offset="0" stop-color="#fff2a8"/><stop offset="0.5" stop-color="#c89c50"/><stop offset="1" stop-color="#5a3c0c"/></linearGradient>
<path id="profT" d="M613.5 574.5L671 574.5Q682.3 574.5 682.3 563L682.3 549Q682.3 537.3 694 537.3L736 537.3Q746.8 537.3 746.8 548L746.8 575.3L734.6 575.3L734.6 549L694.6 549L694.6 568Q694.6 587 676 587L613.5 587Z"/>
<path id="profB" d="M613.5 723.3L671 723.3Q682.3 723.3 682.3 735L682.3 750Q682.3 761.6 694 761.6L736 761.6Q746.8 761.6 746.8 751L746.8 723.3L734.6 723.3L734.6 749.6L694.6 749.6L694.6 731Q694.6 711.5 676 711.5L613.5 711.5Z"/>
<clipPath id="cpSecL"><use href="#profT"/><use href="#profB"/><rect x="697.4" y="549.2" width="37" height="78.7"/><rect x="697.4" y="671.2" width="37" height="78.3"/></clipPath>
<clipPath id="cpSecR"><use href="#profT" transform="translate(1581.8 0) scale(-1 1)"/><use href="#profB" transform="translate(1581.8 0) scale(-1 1)"/><rect x="847.4" y="549.2" width="37" height="78.7"/><rect x="847.4" y="671.2" width="37" height="78.3"/></clipPath>
<g id="unitA">
<!-- bar section -->
<rect x="697.4" y="549.2" width="37" height="200.3" fill="#cdcdcd" class="k"/>
<rect x="697.4" y="627.9" width="37" height="43.3" fill="url(#gCyl)" class="k"/>
<!-- shaft -->
<rect x="615.8" y="587" width="38.8" height="100" fill="url(#gShaftY)" class="k"/>
<use href="#thr1" transform="translate(489.6 0.6)"/>
<!-- top bracket bands -->
<rect x="528" y="537.5" width="130" height="14.1" fill="url(#gCr1)"/>
<rect x="528" y="551.6" width="130" height="11.3" fill="#fffcd8"/>
<rect x="528" y="562.9" width="130" height="11.8" fill="url(#gCr3)"/>
<rect x="657.8" y="537.5" width="30" height="37" fill="url(#gGoldR)"/>
<path d="M528 537.5L694 537.5M528 551.6L683 551.6M528 562.9L683 562.9M528 574.6L683 574.6M528 537.5L528 587.2M657.8 537.5L657.8 574.5" class="ln"/>
<rect x="528" y="574.6" width="85.5" height="12.6" fill="#c8a060" class="k"/>
<rect x="528" y="574.6" width="4.2" height="12.6" fill="#e8c888" class="k"/>
<use href="#profT" fill="#ffffc4" class="k"/>
<path d="M605.3 574.5A30.4 25.6 0 0 1 666 574.5Z" fill="url(#gDomeY)" class="k"/>
<!-- bottom bracket -->
<rect x="528" y="723.3" width="160" height="11.6" fill="url(#gYB1)"/>
<rect x="528" y="734.9" width="160" height="13.3" fill="#fffcc0"/>
<rect x="528" y="748.2" width="160" height="13.4" fill="url(#gYB3)"/>
<path d="M528 723.3L683 723.3M528 734.9L683 734.9M528 748.2L683 748.2M528 761.6L694 761.6M528 711.5L528 761.6" class="ln"/>
<rect x="528" y="711.5" width="85.5" height="11.8" fill="#c8a060" class="k"/>
<rect x="528" y="711.5" width="4.2" height="11.8" fill="#e8c888" class="k"/>
<use href="#profB" fill="#ffffc4" class="k"/>
</g>
</defs>
<g id="secAA">
<path d="M518.8 549.7L1066.5 549.7L1066.5 749.5L514.4 749.5Q500 700 499.7 650Q500 600 518.8 549.7Z" fill="#bebebe" class="k"/>
<path d="M514.4 749.5Q500 700 499.7 650Q500 600 518.8 549.7" fill="none" stroke="#000" stroke-width="1.6"/>
<use href="#unitA"/>
<use href="#unitA" transform="translate(1581.8 0) scale(-1 1)"/>
<g clip-path="url(#cpSecL)"><path d="M600.0 546.0L760.0 386.0M600.0 563.3L760.0 403.3M600.0 580.7L760.0 420.7M600.0 598.0L760.0 438.0M600.0 615.4L760.0 455.4M600.0 632.7L760.0 472.7M600.0 650.1L760.0 490.1M600.0 667.4L760.0 507.4M600.0 684.8L760.0 524.8M600.0 702.1L760.0 542.1M600.0 719.5L760.0 559.5M600.0 736.8L760.0 576.8M600.0 754.2L760.0 594.2M600.0 771.5L760.0 611.5M600.0 788.9L760.0 628.9M600.0 806.2L760.0 646.2M600.0 823.6L760.0 663.6M600.0 840.9L760.0 680.9M600.0 858.2L760.0 698.2M600.0 875.6L760.0 715.6M600.0 893.0L760.0 733.0M600.0 910.3L760.0 750.3M600.0 927.7L760.0 767.7" stroke="#000" stroke-width="0.8" fill="none"/></g>
<g clip-path="url(#cpSecR)"><path d="M820.0 537.2L980.0 377.2M820.0 554.6L980.0 394.6M820.0 572.0L980.0 412.0M820.0 589.3L980.0 429.3M820.0 606.6L980.0 446.6M820.0 624.0L980.0 464.0M820.0 641.3L980.0 481.3M820.0 658.7L980.0 498.7M820.0 676.0L980.0 516.0M820.0 693.4L980.0 533.4M820.0 710.8L980.0 550.8M820.0 728.1L980.0 568.1M820.0 745.5L980.0 585.5M820.0 762.8L980.0 602.8M820.0 780.2L980.0 620.2M820.0 797.5L980.0 637.5M820.0 814.8L980.0 654.8M820.0 832.2L980.0 672.2M820.0 849.5L980.0 689.5M820.0 866.9L980.0 706.9M820.0 884.2L980.0 724.2M820.0 901.6L980.0 741.6M820.0 919.0L980.0 759.0" stroke="#000" stroke-width="0.8" fill="none"/></g>
<!-- left nut (3 faces) -->
<rect x="600" y="723.3" width="70" height="2.4" fill="#f4dc9c" stroke="#000" stroke-width="0.7" stroke-dasharray="3 1"/>
<rect x="596.6" y="726" width="77.8" height="36" fill="#7a5a24" class="k"/>
<g shape-rendering="geometricPrecision" stroke="#000" stroke-width="0.8">
<path d="M596.9 731Q603 726 610 726.3Q615 726.5 617.2 729L617.2 759Q615 761.5 610 761.7Q603 762 596.9 757Z" fill="#a88448"/>
<path d="M617.2 729Q637 724 657.1 729L657.1 759Q637 764.5 617.2 759Z" fill="#ffffc8"/>
<path d="M657.1 729Q660 726.5 664 726.3Q670 726 674.1 731L674.1 757Q670 762 664 761.7Q660 761.5 657.1 759Z" fill="#a88448"/>
</g>
<!-- right nut (2 faces) -->
<rect x="912" y="723.3" width="68" height="2.4" fill="#f4dc9c" stroke="#000" stroke-width="0.7" stroke-dasharray="3 1"/>
<rect x="911.5" y="726" width="69.8" height="36" fill="#7a5a24" class="k"/>
<g shape-rendering="geometricPrecision" stroke="#000" stroke-width="0.8">
<path d="M911.8 730.5Q928 724 944.7 730.5L944.7 758Q928 764.5 911.8 758Z" fill="#d8ac6c"/>
<path d="M944.7 730.5Q963 724 981 730.5L981 758Q963 764.5 944.7 758Z" fill="#e6bc7c"/>
</g>
<!-- dimension -->
<path d="M697.4 494.8L697.4 549M884.2 494.8L884.2 549M697.4 497.3L770 497.3M818 497.3L884.2 497.3" class="ln"/>
<path d="M697.4 497.3L704.5 495.7L704.5 498.9ZM884.2 497.3L877.1 495.7L877.1 498.9Z" fill="#000"/>
<text x="775.8" y="502.4" textLength="40.4" lengthAdjust="spacing" style="font-size:17px">1.88"</text>
<text x="747.5" y="791.7" textLength="108" lengthAdjust="spacing">SECTION A-A</text>
</g>

</svg>
</body></html>
